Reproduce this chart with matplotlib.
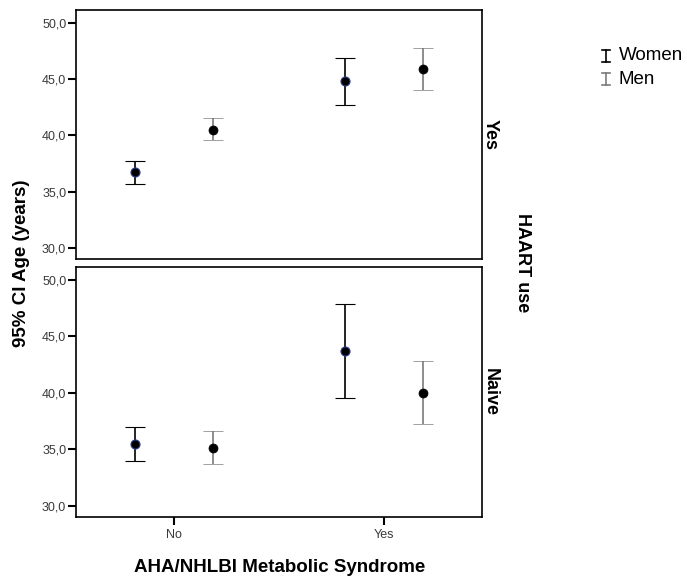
import matplotlib
matplotlib.use("Agg")
import matplotlib.pyplot as plt
from matplotlib.lines import Line2D
import numpy as np

plt.rcParams['font.family'] = ['Liberation Sans', 'DejaVu Sans']

categories = ["No", "Yes"]
panels = ["Yes", "Naive"]
groups = ["Women", "Men"]

# mean, lower CI, upper CI  per panel (HAART use) per group per category
women_mean = {"Yes": [36.7, 44.8], "Naive": [35.5, 43.7]}
women_low = {"Yes": [35.7, 42.7], "Naive": [34.0, 39.5]}
women_high = {"Yes": [37.7, 46.9], "Naive": [37.0, 47.9]}
men_mean = {"Yes": [40.5, 45.9], "Naive": [35.1, 40.0]}
men_low = {"Yes": [39.6, 44.0], "Naive": [33.7, 37.2]}
men_high = {"Yes": [41.5, 47.8], "Naive": [36.6, 42.8]}

yticks = [30.0, 35.0, 40.0, 45.0, 50.0]
ytick_labels = ["30,0", "35,0", "40,0", "45,0", "50,0"]

fig = plt.figure(figsize=(6.87, 5.81), dpi=100)
W, H = 687, 581
left = 76 / W
width = (482 - 76) / W
ax_top = fig.add_axes([left, 1 - 259 / H, width, 249 / H])
ax_bot = fig.add_axes([left, 1 - 517 / H, width, 250 / H])

x = np.arange(len(categories))
off = 0.186
women_col = "black"
men_col = "#7a7a7a"

for ax, panel in zip([ax_top, ax_bot], panels):
    wm = np.array(women_mean[panel]); wl = np.array(women_low[panel]); wh = np.array(women_high[panel])
    mm = np.array(men_mean[panel]); ml = np.array(men_low[panel]); mh = np.array(men_high[panel])
    ax.errorbar(x - off, wm, yerr=[wm - wl, wh - wm], fmt='o', color=women_col,
                ecolor=women_col, elinewidth=1.2, capsize=7, capthick=1.2,
                markersize=6.5, markerfacecolor='black', markeredgecolor='#2c3e8c',
                markeredgewidth=0.8, zorder=3)
    ax.errorbar(x + off, mm, yerr=[mm - ml, mh - mm], fmt='o', color=men_col,
                ecolor=men_col, elinewidth=1.2, capsize=7, capthick=1.2,
                markersize=6.5, markerfacecolor='black', markeredgecolor='black',
                markeredgewidth=0.5, zorder=3)
    ax.set_xlim(-0.467, 1.467)
    ax.set_ylim(29.0, 51.15)
    ax.set_yticks(yticks)
    ax.set_yticklabels(ytick_labels, fontsize=9, color='#3a3a3a')
    ax.tick_params(axis='y', length=6, width=1.5, pad=1, color='black')
    for s in ax.spines.values():
        s.set_linewidth(1.2)
    ax.text(1.02, 0.5, panel, transform=ax.transAxes, rotation=-90,
            ha='center', va='center', fontsize=13, fontweight='bold')

ax_top.set_xticks([])
ax_bot.set_xticks(x)
ax_bot.set_xticklabels(categories, fontsize=9, color='#3a3a3a')
ax_bot.tick_params(axis='x', length=6, width=1.5, pad=3, color='black')

fig.text(22 / W, 1 - 263 / H, "95% CI Age (years)", rotation=90, ha='center', va='center',
         fontsize=13.5, fontweight='bold')
fig.text(280 / W, 1 - 567 / H, "AHA/NHLBI Metabolic Syndrome", ha='center', va='center',
         fontsize=13.5, fontweight='bold')
fig.text(522 / W, 1 - 263 / H, "HAART use", rotation=-90, ha='center', va='center',
         fontsize=13, fontweight='bold')

# legend
for yc, col, name in [(56, women_col, "Women"), (79, men_col, "Men")]:
    xc = 606
    top = yc - 6
    bot = yc + 6
    fig.add_artist(Line2D([xc / W, xc / W], [1 - top / H, 1 - bot / H], color=col, lw=1.2))
    for yy in (top, bot):
        fig.add_artist(Line2D([(xc - 4) / W, (xc + 4) / W], [1 - yy / H, 1 - yy / H], color=col, lw=1.2))
    fig.text(619 / W, 1 - yc / H, name, ha='left', va='center', fontsize=13.5, color='black')

fig.savefig("out.png", dpi=100)
